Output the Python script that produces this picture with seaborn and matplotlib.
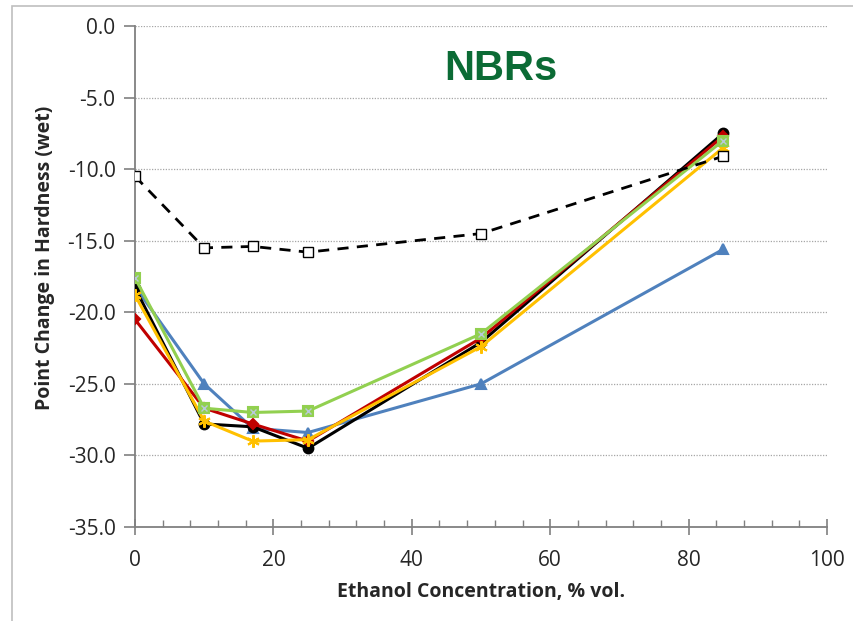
import matplotlib
matplotlib.use("Agg")
import matplotlib.pyplot as plt
from matplotlib.patches import Rectangle
from matplotlib.ticker import MultipleLocator
import pandas as pd
import seaborn as sns

# Ethanol concentration (% vol.) at which hardness was measured
ethanol = [0, 10, 17, 25, 50, 85]

# Point change in hardness (wet) for each NBR compound
reference = [-10.5, -15.5, -15.4, -15.8, -14.5, -9.1]
nbr_black = [-18.3, -27.8, -28.0, -29.5, -22.1, -7.5]
nbr_red = [-20.5, -26.7, -27.8, -29.0, -21.8, -7.7]
nbr_blue = [-18.2, -25.0, -28.1, -28.4, -25.0, -15.6]
nbr_green = [-17.6, -26.7, -27.0, -26.9, -21.5, -8.0]
nbr_yellow = [-18.8, -27.6, -29.0, -28.9, -22.4, -8.5]

y_ticks = [0.0, -5.0, -10.0, -15.0, -20.0, -25.0, -30.0, -35.0]
x_ticks = [0, 20, 40, 60, 80, 100]

sns.set_theme(style="white")
plt.rcParams["font.family"] = ["Open Sans", "DejaVu Sans"]

fig = plt.figure(figsize=(8.54, 6.21), dpi=100)
ax = fig.add_axes([135 / 854, 1 - 527 / 621, (827 - 135) / 854, (527 - 26) / 621])

# thin grey frame around the chart area
fig.patches.append(Rectangle((12 / 854, -0.05), 1.2, 1 - 6 / 621 + 0.05,
                             transform=fig.transFigure, fill=False,
                             edgecolor="#BFBFBF", linewidth=1.2, zorder=0))

for y in y_ticks[:-1]:
    ax.axhline(y, color="#A6A6A6", linestyle=(0, (1, 1.2)), linewidth=0.9, zorder=0)

series = [
    (nbr_blue, "#4F81BD", "^", 7.5),
    (nbr_black, "#000000", "o", 7),
    (nbr_red, "#C00000", "D", 5),
    (nbr_yellow, "#FFC000", (6, 2, 0), 9),
    (nbr_green, "#92D050", "s", 7),
]

for vals, color, marker, ms in series:
    df = pd.DataFrame({"x": ethanol, "y": vals})
    sns.lineplot(data=df, x="x", y="y", ax=ax, color=color, linewidth=2.2,
                 marker=marker, markersize=ms, markeredgecolor=color,
                 markeredgewidth=1.5, zorder=3)

# light cross drawn inside the green square markers
ax.plot(ethanol, nbr_green, linestyle="none", marker="x", markersize=5,
        markeredgewidth=1.0, color="#B9C9DA", zorder=3.5)

df_ref = pd.DataFrame({"x": ethanol, "y": reference})
sns.lineplot(data=df_ref, x="x", y="y", ax=ax, color="black", linewidth=2.0,
             linestyle=(0, (4, 3)), marker="s", markersize=7,
             markerfacecolor="white", markeredgecolor="black",
             markeredgewidth=1.0, zorder=4)

ax.set_xlim(0, 100)
ax.set_ylim(-35, 0)
ax.set_xticks(x_ticks)
ax.set_yticks(y_ticks)
ax.set_yticklabels([f"{v:.1f}" for v in y_ticks])
ax.xaxis.set_minor_locator(MultipleLocator(4))

for side in ("top", "right"):
    ax.spines[side].set_visible(False)
for side in ("left", "bottom"):
    ax.spines[side].set_color("#808080")
    ax.spines[side].set_linewidth(1.3)

ax.tick_params(axis="y", which="major", direction="out", length=8, width=1.2,
               color="#808080", labelsize=15, pad=6, left=True)
ax.tick_params(axis="x", which="major", direction="inout", length=11, width=1.2,
               color="#808080", labelsize=15, pad=11, bottom=True)
ax.tick_params(axis="x", which="minor", direction="in", length=5, width=1.0,
               color="#808080", bottom=True)

ax.set_xlabel("Ethanol Concentration, % vol.", fontsize=14, fontweight="bold")
ax.set_ylabel("Point Change in Hardness (wet)", fontsize=14, fontweight="bold")
ax.xaxis.set_label_coords(0.5, (527 - 592) / 501)
ax.xaxis.label.set_va("center")
ax.yaxis.set_label_coords((45 - 135) / 692, (527 - 258) / 501)
ax.yaxis.label.set_va("center")

ax.text(501 / 854, 1 - 80 / 621, "NBRs", transform=fig.transFigure,
        ha="center", va="baseline", fontsize=30, fontweight="bold",
        color="#0B6B35", family=["Liberation Sans", "DejaVu Sans"])

fig.savefig("out.png", dpi=100)
